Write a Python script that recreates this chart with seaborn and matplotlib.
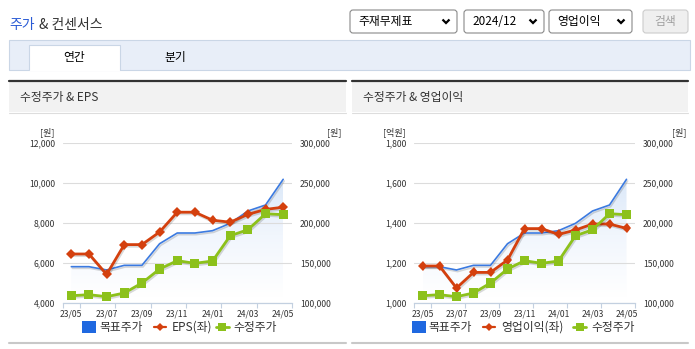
import numpy as np
import pandas as pd
import matplotlib
matplotlib.use('Agg')
import matplotlib.pyplot as plt
import seaborn as sns
from matplotlib.patches import Rectangle, FancyBboxPatch
from matplotlib.lines import Line2D
from matplotlib.colors import LinearSegmentedColormap
import matplotlib.patheffects as pe

# ---------------- data ----------------
months = ['23/05', '23/06', '23/07', '23/08', '23/09', '23/10', '23/11',
          '23/12', '24/01', '24/02', '24/03', '24/04', '24/05']
target_price = [145400, 145400, 141300, 147100, 147100, 174100, 187500,
                187500, 190400, 199600, 215000, 222500, 254600]
adj_price = [109100, 110400, 107900, 112500, 125000, 142500, 152900,
             149600, 152500, 184100, 191600, 211600, 210400]
eps = [6450, 6450, 5430, 6920, 6920, 7550, 8540, 8540, 8140, 8040, 8430, 8680, 8790]
op_profit = [1185, 1185, 1075, 1153, 1153, 1215, 1372, 1372, 1343, 1365, 1395, 1395, 1373]

eps_ticks = [4000, 6000, 8000, 10000, 12000]
op_ticks = [1000, 1200, 1400, 1600, 1800]
price_ticks = [100000, 150000, 200000, 250000, 300000]

# ---------------- style ----------------
sns.set_theme(style='white')
plt.rcParams['font.family'] = ['Noto Sans CJK KR', 'DejaVu Sans']

W, H = 695, 349
fig = plt.figure(figsize=(W / 100, H / 100), dpi=100)
fig.patch.set_facecolor('white')

bg = fig.add_axes([0, 0, 1, 1])
bg.set_xlim(0, W)
bg.set_ylim(H, 0)
bg.axis('off')

TXT = '#333333'
BLUE = '#3b7ae0'
BLUE_SQ = '#1f68e0'
RED = '#d4400e'
GREEN = '#8cc11b'
AXC = '#c3d0e0'

def px_axes(x0, y0, x1, y1):
    return fig.add_axes([x0 / W, 1 - y1 / H, (x1 - x0) / W, (y1 - y0) / H])

# ---------------- page header ----------------
bg.text(9, 25, '주가', color='#2a5bd5', fontsize=10, va='center', ha='left')
bg.text(39, 25, '& 컨센서스', color=TXT, fontsize=10, va='center', ha='left')

def dropdown(x0, x1, label):
    bg.add_patch(FancyBboxPatch((x0, 10), x1 - x0, 23,
                                boxstyle='round,pad=0,rounding_size=3',
                                facecolor='white', edgecolor='#8a8a8a', linewidth=0.8))
    bg.text(x0 + 8, 21.5, label, color='black', fontsize=8.5, va='center', ha='left')
    cx = x1 - 11
    bg.add_line(Line2D([cx - 3.5, cx, cx + 3.5], [19.5, 23, 19.5], color='black',
                       linewidth=1.6, solid_capstyle='butt', solid_joinstyle='miter'))

dropdown(350, 457, '주재무제표')
dropdown(464, 544, '2024/12')
dropdown(549, 632, '영업이익')
bg.add_patch(FancyBboxPatch((643, 10), 45, 23, boxstyle='round,pad=0,rounding_size=3',
                            facecolor='#efefef', edgecolor='#cccccc', linewidth=0.8))
bg.text(665.5, 21.5, '검색', color='#a0a0a0', fontsize=8.5, va='center', ha='center')

# tabs
bg.add_patch(Rectangle((9, 40), 681, 30, facecolor='#e8eef8', edgecolor='#cad6e6', linewidth=0.8))
bg.add_patch(Rectangle((29, 45), 91, 25.5, facecolor='white', edgecolor='none'))
bg.add_line(Line2D([29, 29, 120, 120], [70, 45, 45, 70], color='#cad6e6', linewidth=0.8))
bg.text(74.5, 58, '연간', color='black', fontsize=8.5, va='center', ha='center')
bg.text(175, 58, '분기', color='black', fontsize=8.5, va='center', ha='center')

# ---------------- panels ----------------
def panel(x0, x1, title):
    bg.add_patch(Rectangle((x0, 82), x1 - x0, 30, facecolor='#f2f2f2', edgecolor='none'))
    bg.add_line(Line2D([x0, x1], [81, 81], color='#333333', linewidth=1.6))
    bg.add_line(Line2D([x0, x1], [112.5, 112.5], color='#dddddd', linewidth=0.8))
    bg.add_line(Line2D([x0, x1], [343, 343], color='#c8c8c8', linewidth=1.5))
    bg.text(x0 + 11, 97.5, title, color=TXT, fontsize=8.5, va='center', ha='left')

panel(9, 346, '수정주가 & EPS')
panel(352, 688, '수정주가 & 영업이익')

shadow = [pe.SimpleLineShadow(offset=(0.8, -1.2), shadow_color='#000000', alpha=0.15), pe.Normal()]

def chart(x0, x1, left_vals, left_ticks, left_name):
    idx = np.arange(len(months))
    df = pd.DataFrame({'m': idx, 'target': target_price, 'adj': adj_price, 'left': left_vals})

    ax_p = px_axes(x0, 143, x1, 303)      # price (right axis): gradient + target line + grid
    ax_e = ax_p.twinx()                    # left-axis series
    ax_g = ax_p.twinx()                    # adjusted price on top

    pmin, pmax = price_ticks[0], price_ticks[-1]

    # gradient area under target price
    poly = ax_p.fill_between(df['m'], df['target'], pmin, facecolor='none', edgecolor='none')
    cmap = LinearSegmentedColormap.from_list('g', ['#ffffff', '#f1f6fd', '#d9e7f8'])
    grad = np.linspace(0, 1, 256).reshape(-1, 1)
    im = ax_p.imshow(grad, extent=[0, 12, pmin + 8000, 262000], origin='lower',
                     aspect='auto', cmap=cmap, zorder=0.5, interpolation='bilinear')
    im.set_clip_path(poly.get_paths()[0], transform=ax_p.transData)

    sns.lineplot(data=df, x='m', y='target', ax=ax_p, color=BLUE, linewidth=1.2,
                 path_effects=shadow, zorder=3)
    sns.lineplot(data=df, x='m', y='left', ax=ax_e, color=RED, linewidth=2.0,
                 marker='D', markersize=5, markeredgewidth=0, path_effects=shadow)
    sns.lineplot(data=df, x='m', y='adj', ax=ax_g, color=GREEN, linewidth=2.0,
                 marker='s', markersize=6.5, markeredgewidth=0, path_effects=shadow)

    for a in (ax_p, ax_e, ax_g):
        a.set_xlim(-0.5, 12.5)
        a.set_xlabel('')
        a.set_ylabel('')
        for s in a.spines.values():
            s.set_visible(False)
    ax_p.set_ylim(pmin, pmax)
    ax_g.set_ylim(pmin, pmax)
    ax_e.set_ylim(left_ticks[0], left_ticks[-1])

    # price axis on right
    ax_p.yaxis.tick_right()
    ax_p.set_yticks(price_ticks)
    ax_p.set_yticklabels([f'{v:,}' for v in price_ticks])
    ax_p.tick_params(axis='y', length=0, pad=5.8, labelsize=6.2, labelcolor=TXT)
    ax_p.yaxis.grid(True, color='#dcdcdc', linewidth=0.8)
    ax_p.xaxis.grid(False)
    ax_p.set_facecolor('none')

    # left axis
    ax_e.yaxis.tick_left()
    ax_e.set_yticks(left_ticks)
    ax_e.set_yticklabels([f'{v:,}' for v in left_ticks])
    ax_e.tick_params(axis='y', length=0, pad=5.4, labelsize=6.2, labelcolor=TXT)
    ax_e.grid(False)
    ax_e.set_xticks([])

    ax_g.set_yticks([])
    ax_g.set_xticks([])
    ax_g.grid(False)

    # x axis
    ax_p.spines['bottom'].set_visible(True)
    ax_p.spines['bottom'].set_color(AXC)
    ax_p.spines['bottom'].set_linewidth(0.9)
    ax_p.set_xticks(idx[::2])
    ax_p.set_xticklabels(months[::2])
    ax_p.set_xticks([-0.5, 0.5, 2.5, 4.5, 6.5, 8.5, 10.5, 12.5], minor=True)
    ax_p.tick_params(axis='x', which='major', length=0, pad=5, labelsize=6.2, labelcolor=TXT)
    ax_p.tick_params(axis='x', which='minor', length=3.5, width=0.8, color=AXC, direction='out',
                     bottom=True)
    return ax_p

chart(62.5, 292, eps, eps_ticks, 'EPS(좌)')
chart(414, 635, op_profit, op_ticks, '영업이익(좌)')

# unit labels
bg.text(47, 132.5, '[원]', color=TXT, fontsize=6.5, ha='center', va='center')
bg.text(334, 132.5, '[원]', color=TXT, fontsize=6.5, ha='center', va='center')
bg.text(394, 132.5, '[억원]', color=TXT, fontsize=6.5, ha='center', va='center')
bg.text(679, 132.5, '[원]', color=TXT, fontsize=6.5, ha='center', va='center')

# legends
def legend(xs, names):
    xb, xr, xg = xs
    y = 327
    bg.add_patch(Rectangle((xb, 321), 14, 12, facecolor=BLUE_SQ, edgecolor='none'))
    bg.text(xb + 17, y, names[0], color=TXT, fontsize=8.5, va='center', ha='left')
    bg.add_line(Line2D([xr, xr + 12], [y, y], color=RED, linewidth=1.6))
    bg.add_line(Line2D([xr + 6], [y], color=RED, marker='D', markersize=4, markeredgewidth=0))
    bg.text(xr + 18, y, names[1], color=TXT, fontsize=8.5, va='center', ha='left')
    bg.add_line(Line2D([xg, xg + 13], [y, y], color=GREEN, linewidth=2))
    bg.add_line(Line2D([xg + 6.5], [y], color=GREEN, marker='s', markersize=6, markeredgewidth=0))
    bg.text(xg + 18, y, names[2], color=TXT, fontsize=8.5, va='center', ha='left')

legend((82, 154, 215.5), ['목표주가', 'EPS(좌)', '수정주가'])
legend((411.5, 483, 573), ['목표주가', '영업이익(좌)', '수정주가'])

fig.savefig('out.png', dpi=100)
